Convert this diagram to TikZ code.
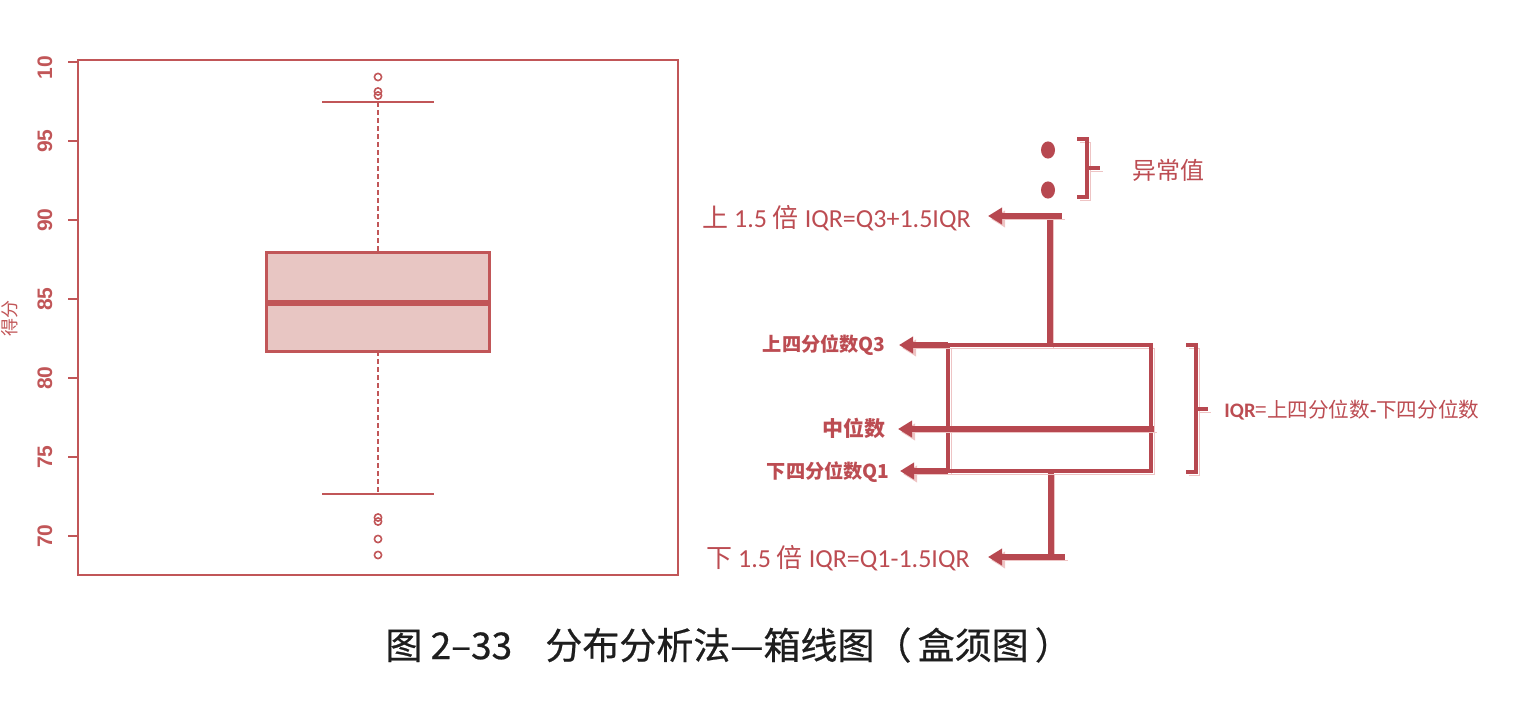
\documentclass[tikz,border=0pt]{standalone}
\usepackage{fontspec}
\setmainfont{Carlito}
\newfontfamily\cjk{Noto Sans CJK SC}
\newfontfamily\cjkcap[FakeBold=0.6]{Noto Sans CJK SC}
\newfontfamily\axisf{Liberation Sans}
\usetikzlibrary{arrows.meta}
\definecolor{plotred}{RGB}{193,86,88}
\definecolor{boxfill}{RGB}{232,198,195}
\definecolor{mainred}{RGB}{183,72,80}
\definecolor{shadowpink}{RGB}{238,196,196}
\definecolor{labred}{RGB}{188,76,82}
\definecolor{capgray}{RGB}{30,30,30}
\tikzset{
  ticklab/.style={rotate=90, text=plotred, font=\axisf\bfseries\fontsize{10.5pt}{12pt}\selectfont, inner sep=0pt},
  pline/.style={draw=plotred, line width=1pt},
  shad/.style={preaction={draw=shadowpink, transform canvas={shift={(1.5pt,-1.5pt)}}}},
  rline/.style={draw=mainred, line width=2pt, shad},
  rwhisk/.style={draw=mainred, line width=2.6pt, shad},
  rarrow/.style={draw=mainred, line width=2.6pt, -{Triangle[length=7pt,width=8pt]}, shad},
  biglab/.style={text=labred, font=\fontsize{13pt}{15pt}\selectfont, inner sep=0pt},
  boldlab/.style={text=labred, font=\cjk\bfseries\fontsize{9.6pt}{12pt}\selectfont, inner sep=0pt},
  outl/.style={draw=plotred, line width=0.8pt},
}
\begin{document}
\begin{tikzpicture}[x=0.5pt,y=-0.5pt]
\useasboundingbox (0,0) rectangle (1534,718);
% ---------------- left plot ----------------
\draw[pline] (78,60) rectangle (678,575);
\foreach \yy in {536,457,378,299,220,141,62} \draw[pline] (68,\yy) -- (78,\yy);
\begin{scope}
  \clip (0,56) rectangle (66,600);
  \node[ticklab] (t70) at (45,536) {70};
  \node[ticklab] (t75) at (45,457) {75};
  \node[ticklab] (t80) at (45,378) {80};
  \node[ticklab] (t85) at (45,299) {85};
  \node[ticklab] (t90) at (45,220) {90};
  \node[ticklab] (t95) at (45,141) {95};
  \node[ticklab] (t100) at (45,62) {100};
\end{scope}
\node[rotate=90, text=plotred, font=\cjk\fontsize{9pt}{11pt}\selectfont, inner sep=0pt] (ylab) at (10,318) {得分};
% whiskers
\draw[pline, dash pattern=on 2.5pt off 1.5pt] (378,102) -- (378,252);
\draw[pline, dash pattern=on 2.5pt off 1.5pt] (378,351) -- (378,494);
\draw[pline, line width=1.2pt] (322,102) -- (434,102);
\draw[pline, line width=1.2pt] (322,494) -- (434,494);
% box
\draw[fill=boxfill, draw=plotred, line width=1.5pt] (266,252) rectangle (489,351);
\draw[draw=plotred, line width=2.6pt] (266,303) -- (489,303);
% outliers
\foreach \yy in {77,91.5,95.5,517.5,521.5,539,555} \draw[outl] (378,\yy) circle[radius=1.8pt];
% ---------------- right diagram ----------------
\coordinate (bTL) at (948,345);
\coordinate (bTR) at (1151,345);
\coordinate (bBL) at (948,471);
\coordinate (bBR) at (1151,471);
\coordinate (mL) at (948,429);
\coordinate (mR) at (1154,429);
\coordinate (uW) at (1050,216);
\coordinate (uT) at (1050,345);
\coordinate (uCapL) at (1036,216);
\coordinate (uCapR) at (1062,216);
\coordinate (lW) at (1051,557);
\coordinate (lT) at (1051,471);
\coordinate (lCapL) at (1040,557);
\coordinate (lCapR) at (1065,557);
% whiskers
\draw[rwhisk] (uT) -- (uW);
\draw[rwhisk] (lT) -- (lW);
\draw[rwhisk] (uCapL) -- (uCapR);
\draw[rwhisk] (lCapL) -- (lCapR);
% box
\draw[rline] (bTL) -- (bTR) -- (bBR) -- (bBL) -- cycle;
\draw[draw=mainred, line width=3pt, shad] (mL) -- (mR);
% outlier dots
\fill[mainred] (1048,150) ellipse[x radius=3.5pt, y radius=4.3pt];
\fill[mainred] (1048,190) ellipse[x radius=3.5pt, y radius=4.3pt];
% outlier bracket
\draw[rline] (1077,139) -- (1087,139) -- (1087,197) -- (1077,197);
\draw[rline] (1087,168) -- (1100,168);
\node[text=labred, font=\cjk\fontsize{12pt}{14pt}\selectfont, anchor=west, inner sep=0pt] (outlab) at (1132,170) {异常值};
% IQR bracket
\draw[rline] (1186,345) -- (1196,345) -- (1196,472) -- (1186,472);
\draw[rline] (1196,409) -- (1208,409);
\node[text=labred, font=\fontsize{10.3pt}{12pt}\selectfont, anchor=west, inner sep=0pt] (iqrlab) at (1224,410) {\textbf{IQR}{\cjk =上四分位数}\textbf{-}{\cjk 下四分位数}};
% labels
\node[biglab, anchor=east] (uplab) at (971,218) {{\cjk 上} 1.5 {\cjk 倍} IQR=Q3+1.5IQR};
\node[biglab, anchor=east] (lolab) at (970,558) {{\cjk 下} 1.5 {\cjk 倍} IQR=Q1-1.5IQR};
\node[boldlab, anchor=east] (q3lab) at (886,345) {上四分位数Q3};
\node[boldlab, anchor=east, font=\cjk\bfseries\fontsize{10.5pt}{12pt}\selectfont] (medlab) at (886,428) {中位数};
\node[boldlab, anchor=east] (q1lab) at (890,472) {下四分位数Q1};
% arrows
\draw[rarrow, shorten >=8.5pt] (uCapL) -- (uCapL -| uplab.east);
\draw[rarrow, shorten >=9pt] (lCapL) -- (lCapL -| lolab.east);
\draw[rarrow, shorten >=6.5pt] (bTL) -- (bTL -| q3lab.east);
\draw[rarrow, shorten >=6pt] (mL) -- (mL -| medlab.east);
\draw[rarrow, shorten >=5pt] (bBL) -- (bBL -| q1lab.east);
% caption
\node[anchor=west, text=capgray, font=\cjkcap\fontsize{18.5pt}{20pt}\selectfont, inner sep=0pt] (cap) at (385,645) {图 2–33\hspace{0.9em}分布分析法—箱线图（\,盒须图\,）};
\end{tikzpicture}
\end{document}
